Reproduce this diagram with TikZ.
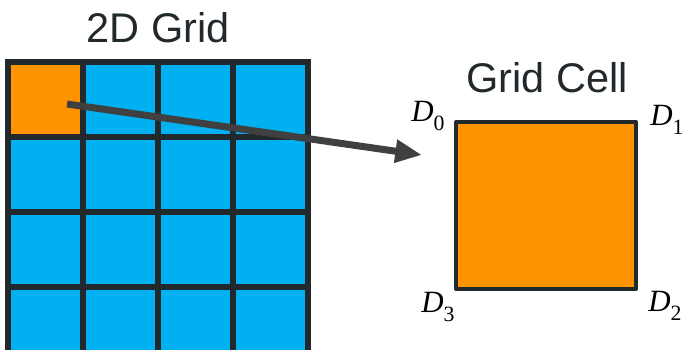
\documentclass[tikz,border=0pt]{standalone}
\usepackage{fontspec}
\setmainfont{Liberation Sans}
\newfontfamily\dfont{Liberation Serif}
\usepackage{tikz}
\usetikzlibrary{arrows.meta, positioning}

\definecolor{gridblue}{HTML}{00B0F0}
\definecolor{cellorange}{HTML}{FF9400}
\definecolor{edgedark}{HTML}{22292D}
\definecolor{arrowgray}{HTML}{404040}

\newcommand{\cornerlabel}[1]{{\fontsize{22}{26}\selectfont\itshape D}%
    \raisebox{-6pt}{\fontsize{15.5}{18}\selectfont #1}}

\tikzset{
    gridcell/.style={draw=edgedark, line width=0.13cm, fill=gridblue,
        minimum size=1.875cm, inner sep=0pt, outer sep=0pt},
    bigcell/.style={draw=edgedark, line width=0.1cm, fill=cellorange,
        minimum width=4.5cm, minimum height=4.175cm, inner sep=0pt,
        line join=round},
    title/.style={text=edgedark, font=\fontsize{29.5}{34}\selectfont},
    corner/.style={inner sep=0pt, font=\dfont},
}

\begin{document}
\begin{tikzpicture}[x=0.025cm, y=-0.025cm]
    \clip (0,0) rectangle (689,349);

    % 1. Lưới 2D
    \foreach \i in {0,...,3} {
        \foreach \j in {0,...,3} {
            \node[gridcell] (c\i\j) at ({45.5+75*\i}, {99.5+75*\j}) {};
        }
    }
    \node[gridcell, fill=cellorange] (c00) at (45.5,99.5) {};
    \node[title] (gridtitle) at (158,28) {2D Grid};

    % 2. Ô lưới
    \node[bigcell] (cell) at (546,205.5) {};
    \node[title] (celltitle) at (547,78) {Grid Cell};
    \node[corner] (d0) at (428,116) {\cornerlabel{0}};
    \node[corner] (d1) at (667,120) {\cornerlabel{1}};
    \node[corner] (d2) at (665,306) {\cornerlabel{2}};
    \node[corner] (d3) at (438,307) {\cornerlabel{3}};

    % 3. Mũi tên
    \coordinate (src) at (67,104);
    \coordinate (dst) at (422,155);
    \draw[arrowgray, line width=0.175cm,
          -{Triangle[length=19pt, width=15.5pt]}] (src) -- (dst);
\end{tikzpicture}
\end{document}
